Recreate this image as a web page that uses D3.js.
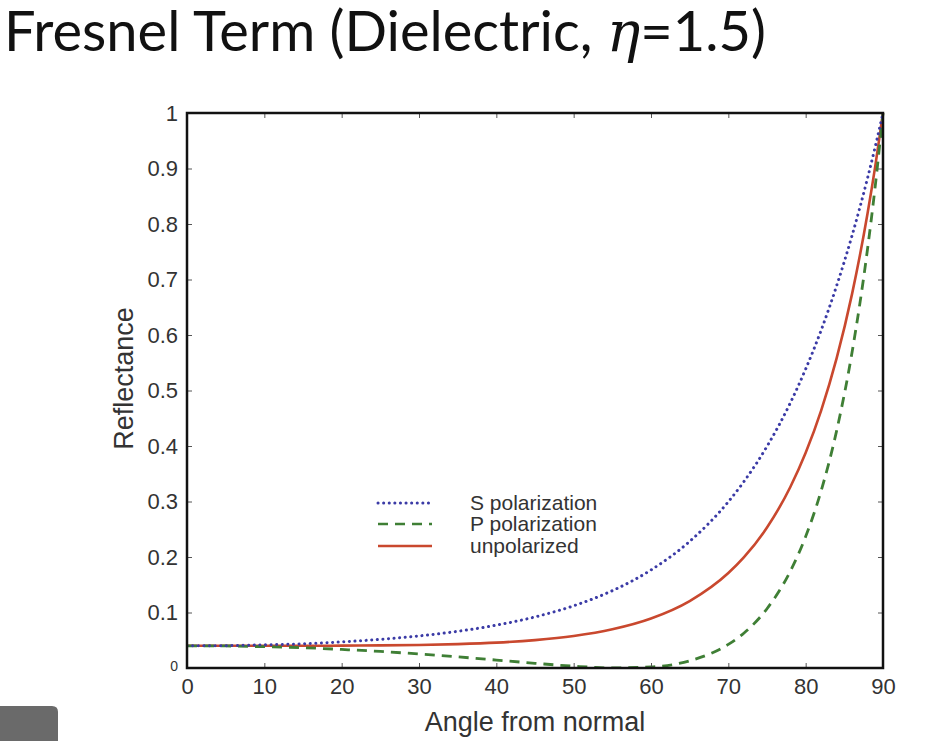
<!DOCTYPE html>
<html>
<head>
<meta charset="utf-8">
<script src="https://cdn.jsdelivr.net/npm/d3@7"></script>
<style>
  html, body { margin: 0; padding: 0; background: #fff; }
  svg { display: block; }
</style>
</head>
<body>
<svg id="chart" width="931" height="741"></svg>
<script>
// ---------- Data ----------
const angles = [0, 5, 10, 15, 20, 25, 30, 35, 40, 45, 50, 55, 60, 65, 70, 72, 75, 78, 80, 82, 84, 86, 88, 89, 90];
const sPol   = [0.040, 0.0403, 0.0417, 0.0435, 0.0471, 0.0516, 0.0578, 0.0661, 0.0772, 0.092, 0.1121, 0.1393, 0.1766, 0.2281, 0.2996, 0.3356, 0.3993, 0.4773, 0.5387, 0.6085, 0.6884, 0.7792, 0.8826, 0.9395, 1.0];
const pPol   = [0.040, 0.0397, 0.0384, 0.0366, 0.0334, 0.0298, 0.0253, 0.0201, 0.0143, 0.0085, 0.0033, 0.0002, 0.0018, 0.013, 0.0425, 0.0627, 0.1068, 0.174, 0.2369, 0.3192, 0.4272, 0.569, 0.755, 0.8688, 1.0];
const unPol  = [0.040, 0.040, 0.040, 0.040, 0.0403, 0.0407, 0.0415, 0.0431, 0.0457, 0.0503, 0.0577, 0.0698, 0.0892, 0.1206, 0.1711, 0.1992, 0.2531, 0.3257, 0.3878, 0.4639, 0.5578, 0.6741, 0.8188, 0.9042, 1.0];

const xTicks = [0, 10, 20, 30, 40, 50, 60, 70, 80, 90];
const yTicks = [0, 0.1, 0.2, 0.3, 0.4, 0.5, 0.6, 0.7, 0.8, 0.9, 1];

const seriesNames  = ["S polarization", "P polarization", "unpolarized"];
const seriesColors = ["#3b3ba6", "#3f7f35", "#c9482e"];
const titleParts   = ["Fresnel Term (Dielectric, ", "η", "=1.5)"];

// ---------- Layout ----------
const svg = d3.select("#chart");
const M = { l: 187, t: 113, r: 883, b: 668 };
const x = d3.scaleLinear().domain([0, 90]).range([M.l, M.r]);
const y = d3.scaleLinear().domain([0, 1]).range([M.b, M.t]);
const tickFont = "'Liberation Sans', Arial, sans-serif";

// title: three pieces laid side by side (the eta is a math italic)
let tx = 4;
titleParts.forEach((part, i) => {
  const t = svg.append("text")
    .attr("x", tx).attr("y", 51)
    .attr("font-family", i === 1 ? "'DejaVu Serif', serif" : "Lato, 'Noto Sans', sans-serif")
    .attr("font-style", i === 1 ? "italic" : null)
    .attr("font-size", 56).attr("fill", "#111")
    .attr("xml:space", "preserve")
    .style("white-space", "pre")
    .text(part);
  tx += t.node().getComputedTextLength();
});

// screen-capture artefact at the bottom-left
svg.append("path")
  .attr("d", "M0,706 L52,706 Q58,706 58,712 L58,741 L0,741 Z")
  .attr("fill", "#6a6a6a");

// ---------- Curves ----------
const line = d3.line().x(d => x(d[0])).y(d => y(d[1])).curve(d3.curveMonotoneX);
const zip = vals => angles.map((a, i) => [a, vals[i]]);

svg.append("clipPath").attr("id", "clip").append("rect")
  .attr("x", M.l).attr("y", M.t - 2).attr("width", M.r - M.l + 2).attr("height", M.b - M.t + 2);
const plot = svg.append("g").attr("clip-path", "url(#clip)");

plot.append("path").datum(zip(unPol)).attr("d", line)
  .attr("fill", "none").attr("stroke", seriesColors[2]).attr("stroke-width", 2.6);
plot.append("path").datum(zip(pPol)).attr("d", line)
  .attr("fill", "none").attr("stroke", seriesColors[1]).attr("stroke-width", 2.8)
  .attr("stroke-dasharray", "10,7");
plot.append("path").datum(zip(sPol)).attr("d", line)
  .attr("fill", "none").attr("stroke", seriesColors[0]).attr("stroke-width", 3)
  .attr("stroke-dasharray", "0.1,5.5").attr("stroke-linecap", "round");

// ---------- Axes (inward ticks on all sides) ----------
const ax = svg.append("g");
ax.append("g").attr("transform", `translate(0,${M.b})`)
  .call(d3.axisBottom(x).tickValues(xTicks).tickSizeInner(-5).tickSizeOuter(0).tickPadding(10).tickFormat(d3.format("d")))
  .call(g => g.select(".domain").remove());
ax.append("g").attr("transform", `translate(0,${M.t})`)
  .call(d3.axisTop(x).tickValues(xTicks).tickSizeInner(-5).tickSizeOuter(0).tickFormat(""))
  .call(g => g.select(".domain").remove());
const yAxisG = ax.append("g").attr("transform", `translate(${M.l},0)`)
  .call(d3.axisLeft(y).tickValues(yTicks).tickSizeInner(-5).tickSizeOuter(0).tickPadding(9).tickFormat(d => d === 0 ? "0" : d === 1 ? "1" : d3.format(".1f")(d)))
  .call(g => g.select(".domain").remove());
ax.append("g").attr("transform", `translate(${M.r},0)`)
  .call(d3.axisRight(y).tickValues(yTicks).tickSizeInner(-5).tickSizeOuter(0).tickFormat(""))
  .call(g => g.select(".domain").remove());

ax.selectAll(".tick line").attr("stroke", "#555").attr("stroke-width", 1);
ax.selectAll(".tick text").attr("font-family", tickFont).attr("font-size", 22).attr("fill", "#333");
// the 0 at the corner is drawn smaller in the reference
yAxisG.selectAll(".tick text").filter(d => d === 0)
  .attr("font-size", 14).attr("dy", "0.2em");

// frame
svg.append("rect").attr("x", M.l).attr("y", M.t)
  .attr("width", M.r - M.l).attr("height", M.b - M.t)
  .attr("fill", "none").attr("stroke", "#111").attr("stroke-width", 2.5);

// axis labels
svg.append("text").attr("x", (M.l + M.r) / 2).attr("y", 731)
  .attr("text-anchor", "middle").attr("font-family", tickFont).attr("font-size", 27).attr("fill", "#333")
  .text("Angle from normal");
svg.append("text").attr("transform", `translate(133,${(M.t + M.b) / 2 - 12}) rotate(-90)`)
  .attr("text-anchor", "middle").attr("font-family", tickFont).attr("font-size", 27).attr("fill", "#333")
  .text("Reflectance");

// ---------- Legend ----------
const legY = [503, 524, 546];
const legDash = ["0.1,5.5", "10,7", null];
const leg = svg.append("g");
seriesNames.forEach((name, i) => {
  const l = leg.append("line").attr("x1", 378).attr("x2", 432).attr("y1", legY[i]).attr("y2", legY[i])
    .attr("stroke", seriesColors[i]).attr("stroke-width", 2.6);
  if (legDash[i]) l.attr("stroke-dasharray", legDash[i]);
  if (i === 0) l.attr("stroke-linecap", "round").attr("stroke-width", 3);
  leg.append("text").attr("x", 470).attr("y", legY[i] + 7)
    .attr("font-family", tickFont).attr("font-size", 21).attr("fill", "#333").text(name);
});
</script>
</body>
</html>
